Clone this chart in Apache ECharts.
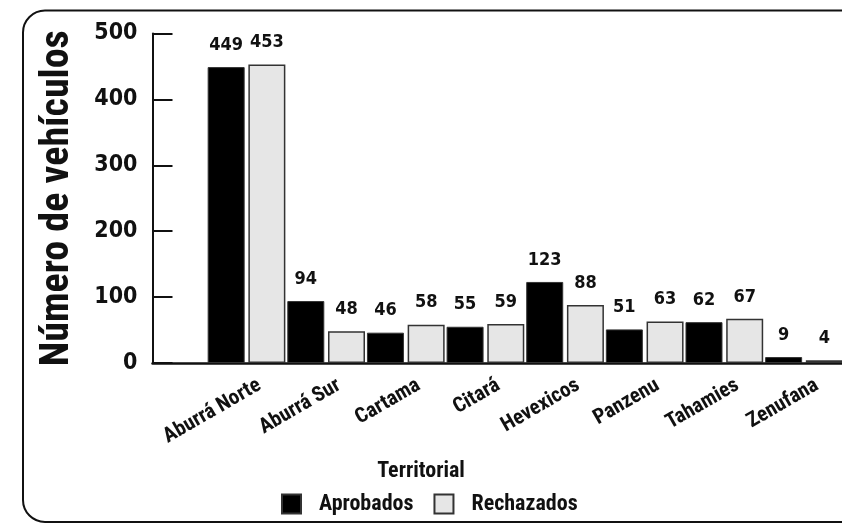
<!DOCTYPE html>
<html>
<head>
<meta charset="utf-8">
<title>Número de vehículos por territorial</title>
<script src="https://cdn.jsdelivr.net/npm/echarts@6/dist/echarts.min.js"></script>
<style>
  html, body { margin: 0; padding: 0; background: #fff; }
  #chart { width: 842px; height: 523px; }
</style>
</head>
<body>
<div id="chart"></div>
<script>
// datos
const territoriales = ['Aburrá Norte', 'Aburrá Sur', 'Cartama', 'Citará', 'Hevexicos', 'Panzenu', 'Tahamies', 'Zenufana']
const aprobados = [449, 94, 46, 55, 123, 51, 62, 9]
const rechazados = [453, 48, 58, 59, 88, 63, 67, 4]
const yMin = 0
const yMax = 500
const yStep = 100

// fuentes
const fontText = '"Roboto Condensed", "DejaVu Sans Condensed", sans-serif'
const fontNum = '"DejaVu Sans Condensed", sans-serif'

// marco del gráfico
const plotTop = 33.5
const plotBottom = 160
const barsLeft = 206.7
const barsWidth = 637.1

const chart = echarts.init(document.getElementById('chart'))

const barLabel = {
  show: true,
  position: 'top',
  distance: 13,
  color: '#111',
  fontFamily: fontNum,
  fontWeight: 'bold',
  fontSize: 18
}

const option = {
  animation: false,
  title: {
    text: 'Territorial',
    left: 416,
    top: 455,
    textAlign: 'center',
    textStyle: { fontFamily: fontText, fontWeight: 'bold', fontSize: 22, color: '#111' }
  },
  legend: {
    left: 276,
    top: 488,
    itemWidth: 19,
    itemHeight: 19,
    itemGap: 20,
    icon: 'rect',
    textStyle: { fontFamily: fontText, fontWeight: 'bold', fontSize: 22, color: '#111', padding: [0, 0, 0, 13] },
    data: ['Aprobados', 'Rechazados']
  },
  graphic: [{
    type: 'rect',
    shape: { x: 23, y: 10.5, width: 900, height: 511.5, r: 22 },
    style: { fill: 'none', stroke: '#111', lineWidth: 2 },
    silent: true
  }],
  grid: [
    // ejes visibles
    { left: 152.5, right: 0, top: plotTop, bottom: plotBottom, outerBoundsMode: 'none' },
    // barras
    { left: barsLeft, width: barsWidth, top: plotTop, bottom: plotBottom, outerBoundsMode: 'none' },
    // etiquetas del eje x, un poco corridas a la derecha
    { left: barsLeft + 13, width: barsWidth, top: plotTop, bottom: plotBottom, outerBoundsMode: 'none' }
  ],
  xAxis: [
    {
      gridIndex: 0,
      type: 'value',
      min: 0,
      max: 1,
      axisLine: { show: true, lineStyle: { color: '#111', width: 2.5 } },
      axisTick: { show: false },
      axisLabel: { show: false },
      splitLine: { show: false }
    },
    {
      gridIndex: 1,
      type: 'category',
      data: territoriales,
      axisLine: { show: false },
      axisTick: { show: false },
      axisLabel: { show: false }
    },
    {
      gridIndex: 2,
      type: 'category',
      data: territoriales,
      axisLine: { show: false },
      axisTick: { show: false },
      axisLabel: {
        rotate: 30,
        margin: 21,
        interval: 0,
        color: '#111',
        fontFamily: fontText,
        fontWeight: 'bold',
        fontSize: 21
      }
    }
  ],
  yAxis: [
    {
      gridIndex: 0,
      type: 'value',
      min: yMin,
      max: yMax,
      interval: yStep,
      name: 'Número de vehículos',
      nameLocation: 'middle',
      nameGap: 75,
      nameTextStyle: { fontFamily: fontText, fontWeight: 'bold', fontSize: 40, color: '#111' },
      axisLine: { show: true, lineStyle: { color: '#111', width: 2 } },
      axisTick: { show: true, inside: true, length: 20, lineStyle: { color: '#111', width: 2 } },
      axisLabel: { margin: 15, color: '#111', fontFamily: fontNum, fontWeight: 'bold', fontSize: 23 },
      splitLine: { show: false }
    },
    { gridIndex: 1, type: 'value', min: yMin, max: yMax, interval: yStep, show: false },
    { gridIndex: 2, type: 'value', min: yMin, max: yMax, interval: yStep, show: false }
  ],
  series: [
    {
      name: 'Aprobados',
      type: 'bar',
      xAxisIndex: 1,
      yAxisIndex: 1,
      data: aprobados,
      barWidth: 37,
      barGap: '10%',
      itemStyle: { color: '#000', borderColor: '#333', borderWidth: 1 },
      label: barLabel
    },
    {
      name: 'Rechazados',
      type: 'bar',
      xAxisIndex: 1,
      yAxisIndex: 1,
      data: rechazados,
      barWidth: 37,
      barGap: '10%',
      itemStyle: { color: '#e6e6e6', borderColor: '#333', borderWidth: 1.5 },
      label: barLabel
    }
  ]
}

chart.setOption(option)
</script>
</body>
</html>
